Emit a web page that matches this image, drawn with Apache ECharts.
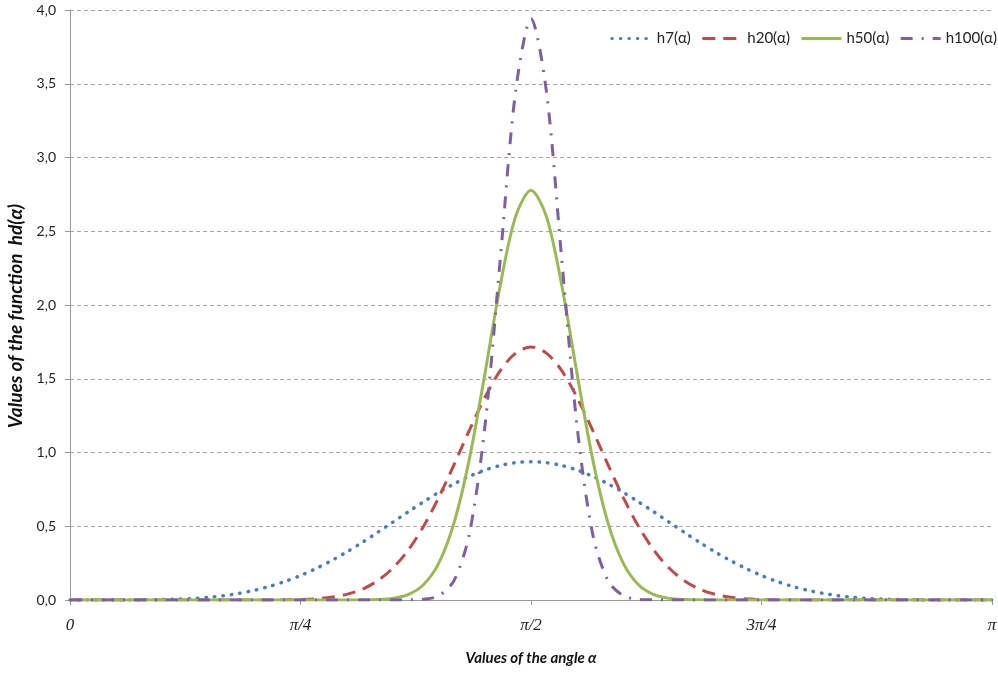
<!DOCTYPE html>
<html>
<head>
<meta charset="utf-8">
<script src="https://cdn.jsdelivr.net/npm/echarts@6/dist/echarts.min.js"></script>
<style>
html,body{margin:0;padding:0;background:#fff;}
#c{width:998px;height:673px;}
</style>
</head>
<body>
<div id="c"></div>
<script>
// angle in degrees (0 .. 180 = 0 .. π), step 3°
var angleDeg = [0,3,6,9,12,15,18,21,24,27,30,33,36,39,42,45,48,51,54,57,60,63,66,69,72,75,78,81,84,87,90,
  93,96,99,102,105,108,111,114,117,120,123,126,129,132,135,138,141,144,147,150,153,156,159,162,165,168,171,174,177,180];

var h7 = [0,0,0,0,0,0.001,0.003,0.006,0.010,0.018,0.029,0.045,0.066,0.093,0.126,0.166,0.213,0.266,0.325,0.389,0.457,0.527,0.597,0.665,0.730,0.788,0.839,0.881,0.912,0.931,0.938,
  0.931,0.912,0.881,0.839,0.788,0.730,0.665,0.597,0.527,0.457,0.389,0.325,0.266,0.213,0.166,0.126,0.093,0.066,0.045,0.029,0.018,0.010,0.006,0.003,0.001,0,0,0,0,0];

var h20 = [0,0,0,0,0,0,0,0,0,0,0,0,0,0,0.001,0.003,0.008,0.018,0.038,0.072,0.129,0.215,0.337,0.498,0.696,0.920,1.153,1.373,1.555,1.674,1.716,
  1.674,1.555,1.373,1.153,0.920,0.696,0.498,0.337,0.215,0.129,0.072,0.038,0.018,0.008,0.003,0.001,0,0,0,0,0,0,0,0,0,0,0,0,0,0];

var h50 = [0,0,0,0,0,0,0,0,0,0,0,0,0,0,0,0,0,0,0,0.001,0.003,0.011,0.036,0.103,0.250,0.526,0.962,1.533,2.134,2.601,2.778,
  2.601,2.134,1.533,0.962,0.526,0.250,0.103,0.036,0.011,0.003,0.001,0,0,0,0,0,0,0,0,0,0,0,0,0,0,0,0,0,0,0];

var h100 = [0,0,0,0,0,0,0,0,0,0,0,0,0,0,0,0,0,0,0,0,0,0,0.001,0.005,0.029,0.133,0.454,1.176,2.310,3.450,3.940,
  3.450,2.310,1.176,0.454,0.133,0.029,0.005,0.001,0,0,0,0,0,0,0,0,0,0,0,0,0,0,0,0,0,0,0,0,0,0];

var seriesNames = ['h7(α)','h20(α)','h50(α)','h100(α)'];
var tickLabels = {0:'0',45:'π/4',90:'π/2',135:'3π/4',180:'π'};

function pairs(arr){ return angleDeg.map(function(a,i){ return [a, arr[i]]; }); }

var chart = echarts.init(document.getElementById('c'), null, {renderer:'canvas'});
var font = 'Lato, "Open Sans", sans-serif';
chart.setOption({
  animation:false,
  backgroundColor:'#fff',
  grid:{left:70, right:6, top:10, bottom:73, containLabel:false, outerBoundsMode:'none'},
  legend:{
    right:-4, top:26, itemWidth:40, itemHeight:10, itemGap:10,
    itemStyle:{opacity:0, borderWidth:0},
    lineStyle:{width:3},
    textStyle:{fontFamily:font, fontSize:15, color:'#222'},
    data:seriesNames
  },
  xAxis:{
    type:'value', min:0, max:180, interval:45,
    axisLine:{lineStyle:{color:'#9a9a9a', width:1}},
    axisTick:{show:true, length:5, lineStyle:{color:'#9a9a9a'}},
    splitLine:{show:false},
    axisLabel:{
      margin:17, fontFamily:'"Liberation Serif", "DejaVu Serif", serif', fontStyle:'italic', fontSize:17, color:'#222',
      formatter:function(v){ return tickLabels[v] !== undefined ? tickLabels[v] : ''; }
    },
    name:'Values of the angle α', nameLocation:'middle', nameGap:51,
    nameTextStyle:{fontFamily:font, fontStyle:'italic', fontWeight:'bold', fontSize:15, color:'#111'}
  },
  yAxis:{
    type:'value', min:0, max:4, interval:0.5,
    axisLine:{show:true, lineStyle:{color:'#9a9a9a', width:1}},
    axisTick:{show:true, length:5, lineStyle:{color:'#9a9a9a'}},
    splitLine:{show:true, lineStyle:{color:'#a6a6a6', type:[4,3], width:1}},
    axisLabel:{
      margin:14, fontFamily:font, fontSize:14, color:'#222',
      formatter:function(v){ return v.toFixed(1).replace('.', ','); }
    },
    name:'Values of the function  hd(α)', nameLocation:'middle', nameGap:45,
    nameTextStyle:{fontFamily:font, fontStyle:'italic', fontWeight:'bold', fontSize:19, color:'#111', padding:[0,22,0,0]}
  },
  series:[
    {name:seriesNames[0], type:'line', data:pairs(h7), symbol:'none', smooth:0.3, color:'#4a7ebb',
     lineStyle:{width:3.5, type:[0.5,8], cap:'round', color:'#4a7ebb'}},
    {name:seriesNames[1], type:'line', data:pairs(h20), symbol:'none', smooth:0.3, color:'#be4b48',
     lineStyle:{width:3, type:[13,8], color:'#be4b48'}},
    {name:seriesNames[2], type:'line', data:pairs(h50), symbol:'none', smooth:0.3, color:'#98b954',
     lineStyle:{width:3, type:'solid', color:'#98b954'}},
    {name:seriesNames[3], type:'line', data:pairs(h100), symbol:'none', smooth:0.3, color:'#7d60a0',
     lineStyle:{width:3, type:[12,9,2,9], color:'#7d60a0'}}
  ]
});
</script>
</body>
</html>
